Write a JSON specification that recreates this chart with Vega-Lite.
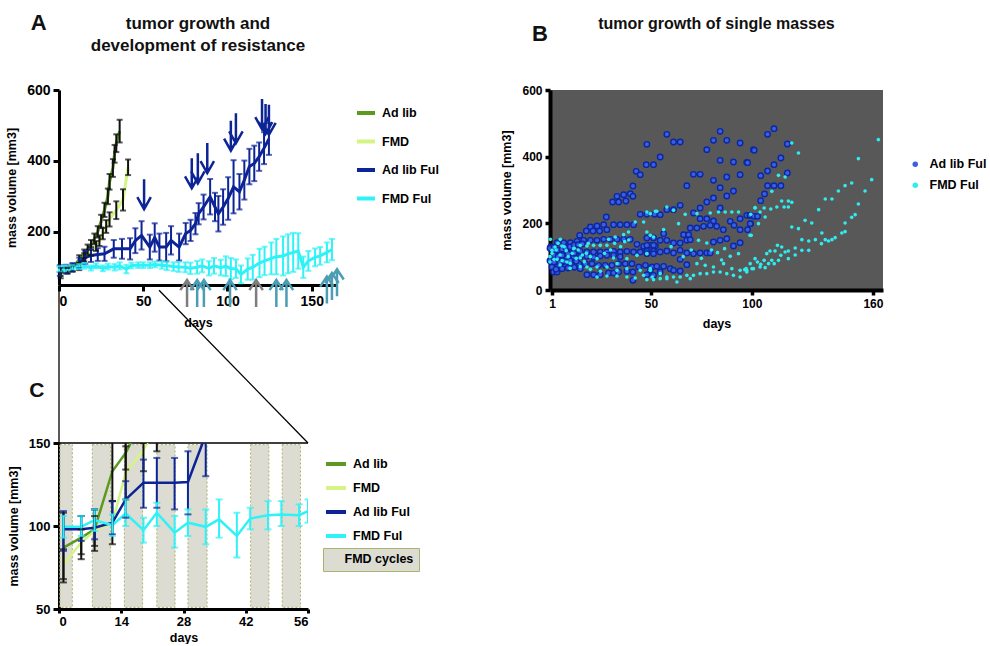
{
"$schema":"https://vega.github.io/schema/vega-lite/v6.json",
"background":"white",
"padding":{"left":5,"top":12,"right":0,"bottom":0},
"config":{
 "font":"Liberation Sans",
 "view":{"stroke":null},
 "title":{"font":"Liberation Sans","fontWeight":"bold","color":"#111"},
 "axis":{"grid":false,"labelFont":"Liberation Sans","titleFont":"Liberation Sans","labelFontWeight":"bold","titleFontWeight":"bold","labelColor":"#000","titleColor":"#000","domainColor":"#000","tickColor":"#000","domainWidth":3,"tickWidth":3,"tickSize":6,"labelPadding":3,"titlePadding":8,"labelFontSize":13,"titleFontSize":12.5},
 "legend":{"labelFont":"Liberation Sans","labelFontWeight":"bold","labelColor":"#000","labelFontSize":12.5}
},
"resolve":{"scale":{"stroke":"independent","fill":"independent","color":"independent"},"legend":{"stroke":"independent","fill":"independent","color":"independent"}},
"datasets":{
 "A":[
  {"series":"Ad lib","day":1,"vol":87,"lo":75,"hi":99},
  {"series":"Ad lib","day":5,"vol":93,"lo":83,"hi":103},
  {"series":"Ad lib","day":8,"vol":98,"lo":88,"hi":108},
  {"series":"Ad lib","day":12,"vol":122,"lo":110,"hi":134},
  {"series":"Ad lib","day":15,"vol":138,"lo":126,"hi":150},
  {"series":"Ad lib","day":17,"vol":150,"lo":136,"hi":164},
  {"series":"Ad lib","day":19,"vol":163,"lo":149,"hi":177},
  {"series":"Ad lib","day":21,"vol":180,"lo":165,"hi":195},
  {"series":"Ad lib","day":23,"vol":200,"lo":184,"hi":216},
  {"series":"Ad lib","day":25,"vol":230,"lo":212,"hi":248},
  {"series":"Ad lib","day":27,"vol":262,"lo":242,"hi":282},
  {"series":"Ad lib","day":29,"vol":300,"lo":278,"hi":322},
  {"series":"Ad lib","day":30,"vol":341,"lo":319,"hi":363},
  {"series":"Ad lib","day":32,"vol":380,"lo":355,"hi":405},
  {"series":"Ad lib","day":33,"vol":420,"lo":395,"hi":445},
  {"series":"Ad lib","day":34,"vol":450,"lo":425,"hi":475},
  {"series":"Ad lib","day":36,"vol":484,"lo":452,"hi":516},
  {"series":"FMD","day":1,"vol":77,"lo":69,"hi":85},
  {"series":"FMD","day":5,"vol":90,"lo":82,"hi":98},
  {"series":"FMD","day":8,"vol":97,"lo":89,"hi":105},
  {"series":"FMD","day":12,"vol":102,"lo":92,"hi":112},
  {"series":"FMD","day":15,"vol":128,"lo":116,"hi":140},
  {"series":"FMD","day":19,"vol":145,"lo":133,"hi":157},
  {"series":"FMD","day":22,"vol":160,"lo":146,"hi":174},
  {"series":"FMD","day":24,"vol":175,"lo":160,"hi":190},
  {"series":"FMD","day":26,"vol":195,"lo":179,"hi":211},
  {"series":"FMD","day":28,"vol":215,"lo":197,"hi":233},
  {"series":"FMD","day":30,"vol":235,"lo":215,"hi":255},
  {"series":"FMD","day":34,"vol":261,"lo":236,"hi":286},
  {"series":"FMD","day":38,"vol":290,"lo":260,"hi":320},
  {"series":"FMD","day":41,"vol":382,"lo":360,"hi":404},
  {"series":"Ad lib Ful","day":0.5,"vol":91,"lo":76,"hi":106},
  {"series":"Ad lib Ful","day":4,"vol":95,"lo":83,"hi":107},
  {"series":"Ad lib Ful","day":8,"vol":100,"lo":88,"hi":112},
  {"series":"Ad lib Ful","day":12,"vol":112,"lo":97,"hi":127},
  {"series":"Ad lib Ful","day":15.6,"vol":128,"lo":110,"hi":146},
  {"series":"Ad lib Ful","day":19,"vol":133,"lo":115,"hi":151},
  {"series":"Ad lib Ful","day":23,"vol":136,"lo":118,"hi":154},
  {"series":"Ad lib Ful","day":27,"vol":138,"lo":118,"hi":158},
  {"series":"Ad lib Ful","day":32.5,"vol":152,"lo":127,"hi":177},
  {"series":"Ad lib Ful","day":37.4,"vol":152,"lo":124,"hi":180},
  {"series":"Ad lib Ful","day":42.2,"vol":152,"lo":122,"hi":182},
  {"series":"Ad lib Ful","day":45.3,"vol":175,"lo":140,"hi":210},
  {"series":"Ad lib Ful","day":49,"vol":190,"lo":150,"hi":230},
  {"series":"Ad lib Ful","day":53.9,"vol":157,"lo":122,"hi":192},
  {"series":"Ad lib Ful","day":56.8,"vol":184,"lo":144,"hi":224},
  {"series":"Ad lib Ful","day":59.6,"vol":157,"lo":119,"hi":195},
  {"series":"Ad lib Ful","day":63.6,"vol":157,"lo":117,"hi":197},
  {"series":"Ad lib Ful","day":66.5,"vol":176,"lo":136,"hi":216},
  {"series":"Ad lib Ful","day":71.3,"vol":157,"lo":119,"hi":195},
  {"series":"Ad lib Ful","day":75.2,"vol":195,"lo":165,"hi":225},
  {"series":"Ad lib Ful","day":78.1,"vol":204,"lo":174,"hi":234},
  {"series":"Ad lib Ful","day":81,"vol":223,"lo":193,"hi":253},
  {"series":"Ad lib Ful","day":82.9,"vol":251,"lo":221,"hi":281},
  {"series":"Ad lib Ful","day":85.8,"vol":270,"lo":235,"hi":305},
  {"series":"Ad lib Ful","day":89.7,"vol":299,"lo":249,"hi":349},
  {"series":"Ad lib Ful","day":92.6,"vol":270,"lo":230,"hi":310},
  {"series":"Ad lib Ful","day":94.6,"vol":251,"lo":201,"hi":301},
  {"series":"Ad lib Ful","day":97.4,"vol":270,"lo":220,"hi":320},
  {"series":"Ad lib Ful","day":100.4,"vol":294,"lo":234,"hi":354},
  {"series":"Ad lib Ful","day":103.6,"vol":327,"lo":252,"hi":402},
  {"series":"Ad lib Ful","day":107.1,"vol":313,"lo":263,"hi":363},
  {"series":"Ad lib Ful","day":110,"vol":346,"lo":291,"hi":401},
  {"series":"Ad lib Ful","day":113,"vol":384,"lo":334,"hi":434},
  {"series":"Ad lib Ful","day":115.9,"vol":393,"lo":343,"hi":443},
  {"series":"Ad lib Ful","day":118.8,"vol":412,"lo":372,"hi":452},
  {"series":"Ad lib Ful","day":121.7,"vol":436,"lo":391,"hi":481},
  {"series":"Ad lib Ful","day":124.6,"vol":462,"lo":417,"hi":507},
  {"series":"FMD Ful","day":0,"vol":95,"lo":87,"hi":103},
  {"series":"FMD Ful","day":3,"vol":97,"lo":89,"hi":105},
  {"series":"FMD Ful","day":5,"vol":98,"lo":92,"hi":104},
  {"series":"FMD Ful","day":8,"vol":100,"lo":94,"hi":106},
  {"series":"FMD Ful","day":12,"vol":102,"lo":95,"hi":109},
  {"series":"FMD Ful","day":15,"vol":104,"lo":96,"hi":112},
  {"series":"FMD Ful","day":19,"vol":98,"lo":91,"hi":105},
  {"series":"FMD Ful","day":22,"vol":104,"lo":97,"hi":111},
  {"series":"FMD Ful","day":26,"vol":97,"lo":89,"hi":105},
  {"series":"FMD Ful","day":29,"vol":102,"lo":94,"hi":110},
  {"series":"FMD Ful","day":33,"vol":100,"lo":91,"hi":109},
  {"series":"FMD Ful","day":36,"vol":104,"lo":94,"hi":114},
  {"series":"FMD Ful","day":40,"vol":95,"lo":83,"hi":107},
  {"series":"FMD Ful","day":43,"vol":105,"lo":97,"hi":113},
  {"series":"FMD Ful","day":47,"vol":106,"lo":98,"hi":114},
  {"series":"FMD Ful","day":50,"vol":106,"lo":98,"hi":114},
  {"series":"FMD Ful","day":54,"vol":106,"lo":98,"hi":114},
  {"series":"FMD Ful","day":57,"vol":108,"lo":100,"hi":116},
  {"series":"FMD Ful","day":61,"vol":106,"lo":96,"hi":116},
  {"series":"FMD Ful","day":64,"vol":104,"lo":92,"hi":116},
  {"series":"FMD Ful","day":68,"vol":102,"lo":90,"hi":114},
  {"series":"FMD Ful","day":71,"vol":101,"lo":87,"hi":115},
  {"series":"FMD Ful","day":75,"vol":100,"lo":86,"hi":114},
  {"series":"FMD Ful","day":78,"vol":97,"lo":81,"hi":113},
  {"series":"FMD Ful","day":82,"vol":100,"lo":82,"hi":118},
  {"series":"FMD Ful","day":85,"vol":104,"lo":86,"hi":122},
  {"series":"FMD Ful","day":89,"vol":97,"lo":77,"hi":117},
  {"series":"FMD Ful","day":92,"vol":104,"lo":82,"hi":126},
  {"series":"FMD Ful","day":96,"vol":99,"lo":77,"hi":121},
  {"series":"FMD Ful","day":99,"vol":103,"lo":75,"hi":131},
  {"series":"FMD Ful","day":102,"vol":96,"lo":66,"hi":126},
  {"series":"FMD Ful","day":105,"vol":96,"lo":70,"hi":122},
  {"series":"FMD Ful","day":108,"vol":80,"lo":55,"hi":105},
  {"series":"FMD Ful","day":112,"vol":95,"lo":65,"hi":125},
  {"series":"FMD Ful","day":115,"vol":100,"lo":65,"hi":135},
  {"series":"FMD Ful","day":119,"vol":112,"lo":72,"hi":152},
  {"series":"FMD Ful","day":122,"vol":118,"lo":78,"hi":158},
  {"series":"FMD Ful","day":126,"vol":125,"lo":80,"hi":170},
  {"series":"FMD Ful","day":129,"vol":130,"lo":80,"hi":180},
  {"series":"FMD Ful","day":133,"vol":132,"lo":77,"hi":187},
  {"series":"FMD Ful","day":136,"vol":138,"lo":83,"hi":193},
  {"series":"FMD Ful","day":139,"vol":142,"lo":87,"hi":197},
  {"series":"FMD Ful","day":142,"vol":146,"lo":96,"hi":196},
  {"series":"FMD Ful","day":145,"vol":100,"lo":70,"hi":130},
  {"series":"FMD Ful","day":148,"vol":118,"lo":90,"hi":146},
  {"series":"FMD Ful","day":152,"vol":128,"lo":103,"hi":153},
  {"series":"FMD Ful","day":155,"vol":132,"lo":107,"hi":157},
  {"series":"FMD Ful","day":159,"vol":142,"lo":114,"hi":170},
  {"series":"FMD Ful","day":162,"vol":150,"lo":120,"hi":180}
 ],
 "A_down":[
  {"day":50.5,"vol":306},{"day":78.8,"vol":365},{"day":82.4,"vol":379},{"day":88,"vol":408},
  {"day":102,"vol":471},{"day":105,"vol":492},{"day":120.5,"vol":532},{"day":122.6,"vol":518},{"day":124.6,"vol":516}
 ],
 "A_up":[
  {"day":76,"vol":26,"kind":"grey"},{"day":117,"vol":26,"kind":"grey"},
  {"day":82,"vol":26,"kind":"teal"},{"day":86,"vol":26,"kind":"teal"},{"day":101.5,"vol":26,"kind":"teal"},
  {"day":129,"vol":26,"kind":"teal"},{"day":135,"vol":26,"kind":"teal"},
  {"day":159,"vol":36,"kind":"teal"},{"day":162,"vol":46,"kind":"teal"},{"day":165,"vol":56,"kind":"teal"}
 ],
 "B_adlib":[
  {"day":47.7,"vol":376},{"day":51.3,"vol":376},{"day":42.7,"vol":356},{"day":44.7,"vol":346},{"day":41.1,"vol":312},{"day":33.2,"vol":281},{"day":36.5,"vol":286},{"day":39.8,"vol":289},{"day":41.1,"vol":281},{"day":31,"vol":264},{"day":34,"vol":264},{"day":37.6,"vol":267},{"day":27.9,"vol":219},{"day":44.7,"vol":227},{"day":48,"vol":227},{"day":51.8,"vol":227},{"day":20,"vol":189},{"day":23.3,"vol":192},{"day":26.6,"vol":196},{"day":31.5,"vol":196},{"day":34.8,"vol":196},{"day":38.1,"vol":196},{"day":41.4,"vol":196},{"day":18,"vol":177},{"day":21.3,"vol":177},{"day":24.6,"vol":177},{"day":28.2,"vol":181},{"day":14.7,"vol":164},
  {"day":0.3,"vol":129},{"day":3.5,"vol":142},{"day":6.8,"vol":142},{"day":10.1,"vol":142},{"day":13.4,"vol":146},{"day":16.7,"vol":149},{"day":20,"vol":149},{"day":23.3,"vol":149},{"day":26.6,"vol":152},{"day":29.9,"vol":152},{"day":33.2,"vol":152},{"day":36.5,"vol":152},{"day":39.8,"vol":152},{"day":43.1,"vol":137},{"day":46.4,"vol":131},{"day":49.8,"vol":134},{"day":52.2,"vol":132},
  {"day":1.8,"vol":114},{"day":5.1,"vol":114},{"day":8.4,"vol":114},{"day":11.7,"vol":114},{"day":15,"vol":116},{"day":18.3,"vol":114},{"day":21.6,"vol":114},{"day":24.9,"vol":114},{"day":28.2,"vol":114},{"day":31.5,"vol":116},{"day":34.8,"vol":114},{"day":38.1,"vol":116},{"day":41.4,"vol":114},{"day":44.7,"vol":114},{"day":48,"vol":116},{"day":51.3,"vol":116},
  {"day":1.8,"vol":94},{"day":5.1,"vol":94},{"day":8.4,"vol":96},{"day":11.7,"vol":98},{"day":15,"vol":100},{"day":18.3,"vol":101},{"day":21.6,"vol":98},{"day":24.9,"vol":102},{"day":28.2,"vol":104},{"day":31.5,"vol":104},{"day":34.8,"vol":100},
  {"day":1,"vol":69},{"day":4.3,"vol":74},{"day":7.6,"vol":71},{"day":10.9,"vol":74},{"day":14.2,"vol":79},{"day":17.5,"vol":79},{"day":20.8,"vol":79},{"day":24.1,"vol":74},{"day":27.4,"vol":74},{"day":30.7,"vol":74},{"day":34,"vol":79},{"day":37.3,"vol":79},{"day":40.6,"vol":79},{"day":44,"vol":69},{"day":47.3,"vol":74},{"day":50.6,"vol":69},
  {"day":1.8,"vol":54},{"day":3.5,"vol":54},{"day":18.3,"vol":46},{"day":21.6,"vol":46},{"day":24.9,"vol":46},{"day":29,"vol":51},{"day":31.5,"vol":51},{"day":34,"vol":54},{"day":38.1,"vol":56},{"day":41.1,"vol":54},{"day":48,"vol":46},{"day":41.1,"vol":29},{"day":51.3,"vol":44},
  {"day":0,"vol":125},{"day":2,"vol":128},{"day":4,"vol":120},{"day":6,"vol":122},{"day":8,"vol":126},{"day":10,"vol":130},{"day":12,"vol":135},{"day":14,"vol":136},{"day":16,"vol":138},{"day":2,"vol":105},{"day":4,"vol":100},{"day":6,"vol":104},{"day":9,"vol":108},{"day":12,"vol":110},{"day":0,"vol":88},{"day":2,"vol":84},{"day":5,"vol":82},{"day":7,"vol":86},{"day":10,"vol":88},{"day":13,"vol":86},{"day":3,"vol":62},{"day":6,"vol":64},{"day":9,"vol":66},{"day":12,"vol":68},{"day":15,"vol":64},
  {"day":57.9,"vol":467},{"day":61.2,"vol":444},{"day":64.5,"vol":444},{"day":48,"vol":437},{"day":54.6,"vol":399},{"day":84.3,"vol":476},{"day":81,"vol":449},{"day":87.6,"vol":449},{"day":94.2,"vol":441},{"day":100.8,"vol":421},{"day":77.7,"vol":421},{"day":84.3,"vol":389},{"day":90.9,"vol":384},{"day":97.5,"vol":383},{"day":71.1,"vol":347},{"day":74.4,"vol":347},{"day":81,"vol":329},{"day":87.6,"vol":339},{"day":94.2,"vol":346},{"day":67.8,"vol":313},{"day":84.3,"vol":307},{"day":90.9,"vol":297},{"day":87.6,"vol":282},{"day":81,"vol":276},{"day":77.7,"vol":264},{"day":64.5,"vol":254},{"day":74.4,"vol":246},{"day":84.3,"vol":246},{"day":57.9,"vol":241},{"day":61.2,"vol":241},{"day":54.6,"vol":226},{"day":71.1,"vol":231},{"day":74.4,"vol":214},{"day":77.7,"vol":214},{"day":81,"vol":207},{"day":89.3,"vol":206},{"day":94.2,"vol":214},{"day":97.5,"vol":224},{"day":99.1,"vol":224},{"day":91.2,"vol":194},{"day":99.4,"vol":199},{"day":69.5,"vol":186},{"day":72.8,"vol":186},{"day":76.1,"vol":191},{"day":79.4,"vol":194},{"day":82.6,"vol":191},{"day":85.9,"vol":181},{"day":94.2,"vol":181},{"day":66.2,"vol":166},{"day":68.7,"vol":166},{"day":56.3,"vol":169},{"day":48,"vol":156},{"day":51.3,"vol":156},{"day":54.6,"vol":149},{"day":57.9,"vol":149},{"day":61.2,"vol":141},{"day":64.5,"vol":141},{"day":67.8,"vol":149},{"day":69.5,"vol":151},{"day":81,"vol":144},{"day":87.6,"vol":154},{"day":84.3,"vol":149},{"day":94.2,"vol":142},{"day":90.9,"vol":132},{"day":51.3,"vol":134},{"day":48,"vol":134},{"day":48,"vol":109},{"day":51.3,"vol":109},{"day":54.6,"vol":114},{"day":57.9,"vol":117},{"day":61.2,"vol":111},{"day":64.5,"vol":119},{"day":67.8,"vol":111},{"day":71.1,"vol":109},{"day":74.4,"vol":111},{"day":77.7,"vol":111},{"day":79.4,"vol":111},{"day":64.5,"vol":92},{"day":67.8,"vol":76},{"day":52.9,"vol":71},{"day":56.3,"vol":71},{"day":59.6,"vol":64},{"day":49.7,"vol":59},{"day":61.2,"vol":59},{"day":64.5,"vol":57},{"day":54.6,"vol":54},
  {"day":111,"vol":484},{"day":107.8,"vol":467},{"day":101.2,"vol":419},{"day":117.6,"vol":438},{"day":114.4,"vol":396},{"day":97.9,"vol":382},{"day":111,"vol":376},{"day":107.8,"vol":357},{"day":104.4,"vol":343},{"day":117.6,"vol":351},{"day":107.8,"vol":313},{"day":111,"vol":313},{"day":114.4,"vol":313},{"day":106.3,"vol":288},{"day":104.4,"vol":268},{"day":99.2,"vol":224},{"day":101.2,"vol":221},{"day":102.8,"vol":221},{"day":99.2,"vol":199},{"day":97.9,"vol":181}
 ],
 "B_fmd":[
  {"day":0,"vol":100},{"day":1,"vol":110},{"day":2,"vol":92},{"day":3,"vol":120},{"day":4,"vol":140},{"day":5,"vol":105},{"day":6,"vol":88},{"day":7,"vol":130},{"day":8,"vol":118},{"day":9,"vol":100},{"day":10,"vol":80},{"day":11,"vol":110},{"day":12,"vol":125},{"day":13,"vol":95},{"day":14,"vol":120},{"day":16,"vol":105},{"day":17,"vol":85},{"day":18,"vol":110},{"day":19,"vol":140},{"day":20,"vol":100},{"day":5,"vol":75},{"day":10,"vol":65},{"day":15,"vol":70},{"day":20,"vol":62},{"day":25,"vol":56},{"day":27,"vol":110},{"day":30,"vol":120},{"day":32,"vol":140},{"day":35,"vol":130},{"day":37,"vol":145},{"day":39,"vol":150},
  {"day":0.2,"vol":152},{"day":5.1,"vol":152},{"day":2.5,"vol":129},{"day":5.9,"vol":132},{"day":1,"vol":119},{"day":11.7,"vol":124},{"day":15,"vol":134},{"day":18.3,"vol":132},{"day":29,"vol":152},{"day":32.3,"vol":159},{"day":36.5,"vol":166},{"day":38.9,"vol":174},{"day":42.2,"vol":204},{"day":46.4,"vol":204},{"day":49.7,"vol":229},{"day":52.2,"vol":236},{"day":48,"vol":174},{"day":51.3,"vol":159},{"day":28.2,"vol":134},{"day":24.9,"vol":134},{"day":21.6,"vol":134},
  {"day":0,"vol":84},{"day":3.5,"vol":92},{"day":8.4,"vol":84},{"day":15,"vol":96},{"day":23.3,"vol":94},{"day":31.5,"vol":96},{"day":18.3,"vol":69},{"day":23.3,"vol":69},{"day":28.2,"vol":69},{"day":33.2,"vol":79},{"day":38.1,"vol":94},{"day":43.1,"vol":104},{"day":48,"vol":109},{"day":33.2,"vol":59},{"day":38.1,"vol":64},{"day":44.7,"vol":59},{"day":49.7,"vol":64},{"day":23.3,"vol":39},{"day":28.2,"vol":42},{"day":33.2,"vol":42},{"day":38.1,"vol":39},{"day":42.2,"vol":36},{"day":46.4,"vol":44},{"day":50.6,"vol":39},
  {"day":48,"vol":234},{"day":52.9,"vol":236},{"day":57.9,"vol":249},{"day":61.2,"vol":239},{"day":67,"vol":227},{"day":72.8,"vol":229},{"day":79.4,"vol":231},{"day":83.5,"vol":234},{"day":86.8,"vol":234},{"day":90.1,"vol":234},{"day":93.4,"vol":234},{"day":101.6,"vol":247},{"day":63.7,"vol":199},{"day":99.1,"vol":164},{"day":93.4,"vol":109},{"day":89.3,"vol":101},{"day":86.5,"vol":124},{"day":49.7,"vol":164},{"day":56.3,"vol":181},{"day":73.6,"vol":149},{"day":77.7,"vol":141},{"day":80,"vol":120},{"day":83,"vol":112},{"day":70,"vol":120},{"day":60,"vol":130},{"day":66,"vol":100},{"day":75,"vol":95},{"day":85,"vol":90},
  {"day":72.8,"vol":79},{"day":76.9,"vol":74},{"day":81,"vol":69},{"day":86,"vol":79},{"day":90.1,"vol":64},{"day":94.2,"vol":59},{"day":97.5,"vol":59},{"day":100.8,"vol":64},
  {"day":49.7,"vol":59},{"day":54.6,"vol":49},{"day":57.9,"vol":39},{"day":61.2,"vol":39},{"day":64.5,"vol":39},{"day":67.8,"vol":44},{"day":71.1,"vol":44},{"day":74.4,"vol":49},{"day":77.7,"vol":49},{"day":81,"vol":54},{"day":84.3,"vol":54},{"day":87.6,"vol":49},{"day":90.9,"vol":44},{"day":94.2,"vol":39},{"day":97.5,"vol":54},{"day":51.3,"vol":31},{"day":54.6,"vol":34},{"day":57.9,"vol":34},{"day":62.9,"vol":24},{"day":69.5,"vol":34},{"day":48,"vol":31},
  {"day":119.8,"vol":441},{"day":123.1,"vol":411},{"day":162.7,"vol":451},{"day":152.8,"vol":394},{"day":113.2,"vol":344},{"day":116.5,"vol":339},{"day":109.9,"vol":296},{"day":159.4,"vol":331},{"day":149.5,"vol":321},{"day":146.2,"vol":313},{"day":142.9,"vol":297},{"day":156.1,"vol":297},{"day":139.7,"vol":273},{"day":136.4,"vol":273},{"day":152.8,"vol":258},{"day":133.1,"vol":241},{"day":151.2,"vol":226},{"day":149.5,"vol":218},{"day":114.8,"vol":267},{"day":118.1,"vol":267},{"day":119.8,"vol":263},{"day":112.4,"vol":249},{"day":116,"vol":249},{"day":118.1,"vol":249},{"day":109.4,"vol":243},{"day":106.1,"vol":246},{"day":104.1,"vol":234},{"day":101.6,"vol":246},{"day":106.6,"vol":219},{"day":103.3,"vol":199},{"day":99.5,"vol":227},{"day":99.7,"vol":164},{"day":119.8,"vol":189},{"day":123.1,"vol":184},{"day":126.4,"vol":209},{"day":129.7,"vol":201},{"day":146.2,"vol":201},{"day":146.2,"vol":175},{"day":144.6,"vol":171},{"day":134.7,"vol":171},{"day":141.3,"vol":157},{"day":139.7,"vol":151},{"day":138,"vol":147},{"day":136.4,"vol":151},{"day":134.5,"vol":139},{"day":131.5,"vol":151},{"day":128.2,"vol":147},{"day":124.8,"vol":151},{"day":128.2,"vol":119},{"day":124.8,"vol":119},{"day":121.5,"vol":126},{"day":121.5,"vol":105},{"day":118.1,"vol":117},{"day":116.5,"vol":114},{"day":114.8,"vol":129},{"day":111.5,"vol":117},{"day":112.7,"vol":134},{"day":107.4,"vol":109},{"day":109,"vol":117},{"day":118.1,"vol":94},{"day":114.4,"vol":104},{"day":113.2,"vol":89},{"day":109.9,"vol":89},{"day":111.1,"vol":79},{"day":108.3,"vol":79},{"day":106.1,"vol":89},{"day":104.4,"vol":77},{"day":102.8,"vol":84},{"day":101.6,"vol":94},{"day":99.2,"vol":79},{"day":100.1,"vol":64},{"day":97.2,"vol":64},{"day":96.5,"vol":61},{"day":104.1,"vol":69},{"day":106.6,"vol":67}
 ],
 "C":[
  {"series":"Ad lib","day":1,"vol":87,"lo":66,"hi":108},
  {"series":"Ad lib","day":5,"vol":93,"lo":80,"hi":106},
  {"series":"Ad lib","day":8,"vol":98,"lo":85,"hi":110},
  {"series":"Ad lib","day":12,"vol":133,"lo":115,"hi":151},
  {"series":"Ad lib","day":15,"vol":144,"lo":134,"hi":155},
  {"series":"Ad lib","day":19,"vol":165,"lo":150,"hi":180},
  {"series":"FMD","day":1,"vol":77,"lo":68,"hi":86},
  {"series":"FMD","day":5,"vol":90,"lo":83,"hi":98},
  {"series":"FMD","day":8,"vol":97,"lo":88,"hi":106},
  {"series":"FMD","day":12,"vol":102,"lo":89,"hi":115},
  {"series":"FMD","day":15,"vol":132,"lo":116,"hi":148},
  {"series":"FMD","day":19,"vol":146,"lo":133,"hi":159},
  {"series":"FMD","day":22,"vol":160,"lo":145,"hi":175},
  {"series":"Ad lib Ful","day":1,"vol":98,"lo":85,"hi":109},
  {"series":"Ad lib Ful","day":5,"vol":98,"lo":91,"hi":106},
  {"series":"Ad lib Ful","day":8,"vol":99,"lo":92,"hi":110},
  {"series":"Ad lib Ful","day":12,"vol":102,"lo":95,"hi":115},
  {"series":"Ad lib Ful","day":15,"vol":116,"lo":105,"hi":127},
  {"series":"Ad lib Ful","day":19,"vol":126,"lo":111,"hi":140},
  {"series":"Ad lib Ful","day":22,"vol":126,"lo":111,"hi":141},
  {"series":"Ad lib Ful","day":26,"vol":126,"lo":110,"hi":141},
  {"series":"Ad lib Ful","day":29,"vol":126.5,"lo":107,"hi":145},
  {"series":"Ad lib Ful","day":33,"vol":155,"lo":130,"hi":180},
  {"series":"FMD Ful","day":1,"vol":99.5,"lo":93,"hi":106},
  {"series":"FMD Ful","day":5,"vol":99.5,"lo":94,"hi":106},
  {"series":"FMD Ful","day":8,"vol":103.5,"lo":97,"hi":110},
  {"series":"FMD Ful","day":12,"vol":100.5,"lo":94,"hi":107},
  {"series":"FMD Ful","day":15,"vol":107.5,"lo":100,"hi":116},
  {"series":"FMD Ful","day":19,"vol":97.5,"lo":90,"hi":105},
  {"series":"FMD Ful","day":22,"vol":108,"lo":100,"hi":114},
  {"series":"FMD Ful","day":26,"vol":96,"lo":87,"hi":106},
  {"series":"FMD Ful","day":29,"vol":102,"lo":94,"hi":110},
  {"series":"FMD Ful","day":33,"vol":99.5,"lo":89,"hi":110},
  {"series":"FMD Ful","day":36,"vol":104,"lo":93,"hi":116},
  {"series":"FMD Ful","day":40,"vol":94,"lo":81,"hi":108},
  {"series":"FMD Ful","day":43,"vol":104.5,"lo":98,"hi":111},
  {"series":"FMD Ful","day":47,"vol":106.5,"lo":98,"hi":115},
  {"series":"FMD Ful","day":50,"vol":107,"lo":100,"hi":115},
  {"series":"FMD Ful","day":54,"vol":106.5,"lo":100,"hi":113},
  {"series":"FMD Ful","day":56,"vol":109,"lo":102,"hi":116}
 ],
 "C_cycles":[
  {"start":0.2,"end":3,"label":"FMD cycles"},
  {"start":7.5,"end":11.6,"label":"FMD cycles"},
  {"start":14.7,"end":18.8,"label":"FMD cycles"},
  {"start":22,"end":26.1,"label":"FMD cycles"},
  {"start":29,"end":33.3,"label":"FMD cycles"},
  {"start":43.1,"end":47.2,"label":"FMD cycles"},
  {"start":50.2,"end":54.3,"label":"FMD cycles"}
 ],
 "C_zoom":[
  {"day":0,"vol":243,"day2":0,"vol2":150},
  {"day":22.5,"vol":242,"day2":56,"vol2":150},
  {"day":0,"vol":150,"day2":56,"vol2":150}
 ]
},
"spacing":-43,
"vconcat":[
 {"spacing":61,
  "resolve":{"scale":{"stroke":"independent","fill":"independent","color":"independent"},"legend":{"stroke":"independent","fill":"independent","color":"independent"}},
  "hconcat":[
  {"title":{"text":"A","anchor":"start","fontSize":22,"dx":25,"dy":20,"offset":0},
   "vconcat":[{
    "title":{"text":["tumor growth and","development of resistance"],"fontSize":17,"anchor":"middle","frame":"group","offset":28,"lineHeight":22},
    "width":278,"height":195,
    "layer":[
     {"data":{"name":"A"},"mark":{"type":"line","strokeWidth":3},
      "encoding":{
       "x":{"field":"day","type":"quantitative","title":"days","scale":{"domain":[0,165],"nice":false},"axis":{"values":[0,50,100,150],"labelFontSize":14}},
       "y":{"field":"vol","type":"quantitative","title":"mass volume [mm3]","scale":{"domain":[50,600],"nice":false,"zero":false},"axis":{"values":[200,400,600],"labelFontSize":14}},
       "stroke":{"field":"series","type":"nominal","scale":{"domain":["Ad lib","FMD","Ad lib Ful","FMD Ful"],"range":["#5b9a1f","#d4f584","#0c2496","#2ef2f7"]},
        "legend":{"title":null,"orient":"none","legendX":296,"legendY":12,"symbolType":"stroke","symbolSize":324,"symbolStrokeWidth":4,"rowPadding":9.5,"labelOffset":5}}
      }},
     {"data":{"name":"A"},"mark":{"type":"rule","strokeWidth":2},
      "encoding":{
       "x":{"field":"day","type":"quantitative","title":"days"},
       "y":{"field":"lo","type":"quantitative","title":"mass volume [mm3]"},
       "y2":{"field":"hi"},
       "color":{"field":"series","type":"nominal","scale":{"domain":["Ad lib","FMD","Ad lib Ful","FMD Ful"],"range":["#111111","#111111","#0c2496","#2ef2f7"]},"legend":null}
      }},
     {"data":{"name":"A"},"mark":{"type":"tick","orient":"horizontal","size":6,"thickness":2},
      "encoding":{
       "x":{"field":"day","type":"quantitative","title":"days"},
       "y":{"field":"lo","type":"quantitative","title":"mass volume [mm3]"},
       "color":{"field":"series","type":"nominal","legend":null}
      }},
     {"data":{"name":"A"},"mark":{"type":"tick","orient":"horizontal","size":6,"thickness":2},
      "encoding":{
       "x":{"field":"day","type":"quantitative","title":"days"},
       "y":{"field":"hi","type":"quantitative","title":"mass volume [mm3]"},
       "color":{"field":"series","type":"nominal","legend":null}
      }},
     {"data":{"name":"A_down"},"mark":{"type":"point","shape":"M0,-1L0,1M-0.45,0.2L0,1L0.45,0.2","filled":false,"color":"#0c2496","strokeWidth":2.5,"size":900,"opacity":1},
      "encoding":{
       "x":{"field":"day","type":"quantitative","title":"days"},
       "y":{"field":"vol","type":"quantitative","title":"mass volume [mm3]"}
      }},
     {"data":{"name":"A_up"},"transform":[{"filter":"datum.kind === 'grey'"}],"mark":{"type":"point","shape":"M0,1L0,-1M-0.5,-0.25L0,-1L0.5,-0.25","filled":false,"color":"#7d7d7d","strokeWidth":2.5,"size":729,"opacity":1},
      "encoding":{
       "x":{"field":"day","type":"quantitative","title":"days"},
       "y":{"field":"vol","type":"quantitative","title":"mass volume [mm3]"}
      }},
     {"data":{"name":"A_up"},"transform":[{"filter":"datum.kind === 'teal'"}],"mark":{"type":"point","shape":"M0,1L0,-1M-0.5,-0.25L0,-1L0.5,-0.25","filled":false,"color":"#4b9db4","strokeWidth":2.5,"size":729,"opacity":1},
      "encoding":{
       "x":{"field":"day","type":"quantitative","title":"days"},
       "y":{"field":"vol","type":"quantitative","title":"mass volume [mm3]"}
      }}
    ]
   }]},
  {"title":{"text":"B","anchor":"start","fontSize":22,"dx":31,"dy":30,"offset":0},
   "vconcat":[{
    "title":{"text":"tumor growth of single masses","fontSize":16,"anchor":"middle","frame":"group","offset":46,"dy":-6},
    "width":333,"height":200,
    "view":{"fill":"#585858","stroke":null},
    "layer":[
     {"data":{"name":"B_adlib"},"mark":{"type":"point","filled":true,"opacity":1,"size":30,"stroke":"#0b27a3","strokeWidth":1.4},
      "encoding":{
       "x":{"field":"day","type":"quantitative","title":"days","scale":{"domain":[0,165],"nice":false},"axis":{"values":[1,50,100,160],"labelFontSize":12,"domainWidth":4,"tickWidth":3.5,"tickSize":5}},
       "y":{"field":"vol","type":"quantitative","title":"mass volume [mm3]","scale":{"domain":[0,600],"nice":false},"axis":{"values":[0,200,400,600],"labelFontSize":12,"domainWidth":4,"tickWidth":3.5,"tickSize":5}},
       "fill":{"datum":"Ad lib Ful","type":"nominal","scale":{"domain":["Ad lib Ful","FMD Ful"],"range":["#3a5fe0","#2eecf0"]},
        "legend":{"title":null,"orient":"none","legendX":359,"legendY":68,"symbolType":"circle","symbolSize":30,"rowPadding":8,"labelOffset":8,"symbolStrokeWidth":0}}
      }},
     {"data":{"name":"B_fmd"},"mark":{"type":"point","filled":true,"opacity":1,"size":13},
      "encoding":{
       "x":{"field":"day","type":"quantitative","title":"days"},
       "y":{"field":"vol","type":"quantitative","title":"mass volume [mm3]"},
       "fill":{"datum":"FMD Ful","type":"nominal"}
      }}
    ]
   }]}
 ]},
 {"title":{"text":"C","anchor":"start","fontSize":21,"dx":22,"dy":113,"offset":0},
  "vconcat":[{
   "width":249,"height":166,
   "layer":[
    {"data":{"name":"C_cycles"},"mark":{"type":"rect","stroke":"#a9b36b","strokeDash":[2,2],"strokeWidth":1},
     "encoding":{
      "x":{"field":"start","type":"quantitative","title":"days","scale":{"domain":[0,56],"nice":false},"axis":{"values":[0,7,14,21,28,35,42,49,56],"tickSize":4,"labelPadding":2,"titlePadding":3}},
      "x2":{"field":"end"},
      "y":{"datum":51,"type":"quantitative","title":"mass volume [mm3]","scale":{"domain":[50,150],"nice":false,"zero":false},"axis":{"values":[50,100,150]}},
      "y2":{"datum":149},
      "fill":{"field":"label","type":"nominal","scale":{"domain":["FMD cycles"],"range":["#dcdcd3"]},
       "legend":{"title":null,"orient":"none","legendX":264,"legendY":105,"fillColor":"#dcdcd3","strokeColor":"#a9b36b","padding":5,"symbolSize":4,"symbolOpacity":0,"symbolStrokeWidth":0,"labelOffset":4,"labelFontSize":12.5}}
     }},
    {"data":{"name":"C_zoom"},"mark":{"type":"rule","color":"#000","strokeWidth":1.3},
     "encoding":{
      "x":{"field":"day","type":"quantitative","title":"days"},
      "y":{"field":"vol","type":"quantitative","title":"mass volume [mm3]"},
      "x2":{"field":"day2"},
      "y2":{"field":"vol2"}
     }},
    {"data":{"name":"C"},"mark":{"type":"line","strokeWidth":2.5,"clip":true},
     "encoding":{
      "x":{"field":"day","type":"quantitative","title":"days"},
      "y":{"field":"vol","type":"quantitative","title":"mass volume [mm3]"},
      "stroke":{"field":"series","type":"nominal","scale":{"domain":["Ad lib","FMD","Ad lib Ful","FMD Ful"],"range":["#5b9a1f","#d4f584","#0c2496","#2ef2f7"]},
       "legend":{"title":null,"orient":"none","legendX":265,"legendY":9,"symbolType":"stroke","symbolSize":400,"symbolStrokeWidth":4,"rowPadding":4,"labelOffset":5}}
     }},
    {"data":{"name":"C"},"mark":{"type":"rule","strokeWidth":2,"clip":true},
     "encoding":{
      "x":{"field":"day","type":"quantitative","title":"days"},
      "y":{"field":"lo","type":"quantitative","title":"mass volume [mm3]"},
      "y2":{"field":"hi"},
      "color":{"field":"series","type":"nominal","scale":{"domain":["Ad lib","FMD","Ad lib Ful","FMD Ful"],"range":["#111111","#111111","#0c2496","#2ef2f7"]},"legend":null}
     }},
    {"data":{"name":"C"},"mark":{"type":"tick","orient":"horizontal","size":7,"thickness":2,"clip":true},
     "encoding":{
      "x":{"field":"day","type":"quantitative","title":"days"},
      "y":{"field":"lo","type":"quantitative","title":"mass volume [mm3]"},
      "color":{"field":"series","type":"nominal","legend":null}
     }},
    {"data":{"name":"C"},"mark":{"type":"tick","orient":"horizontal","size":7,"thickness":2,"clip":true},
     "encoding":{
      "x":{"field":"day","type":"quantitative","title":"days"},
      "y":{"field":"hi","type":"quantitative","title":"mass volume [mm3]"},
      "color":{"field":"series","type":"nominal","legend":null}
     }}
   ]
  }]}
]
}
